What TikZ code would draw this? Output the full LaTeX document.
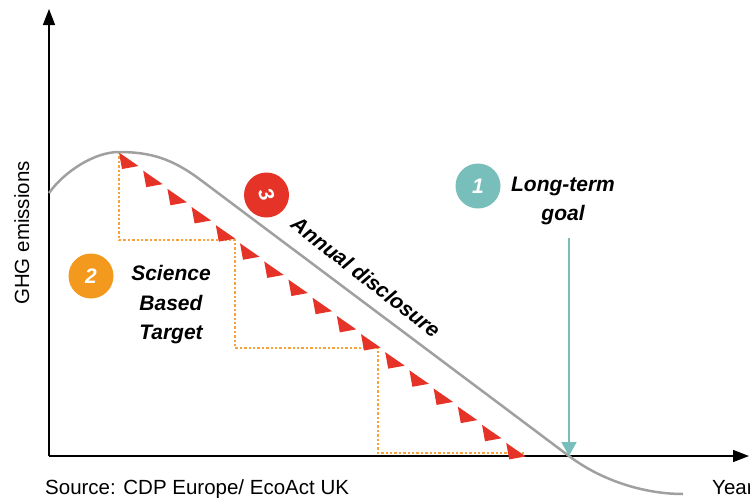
\documentclass[tikz,border=0pt]{standalone}
\usepackage{fontspec}
\setmainfont{Liberation Sans}
\usetikzlibrary{arrows.meta}
\definecolor{tealc}{HTML}{78BEBA}
\definecolor{orangec}{HTML}{F39A1E}
\definecolor{redc}{HTML}{E53427}
\definecolor{curvec}{HTML}{A0A0A0}
\definecolor{dotc}{HTML}{F7A23A}
\tikzset{
  axisline/.style={line width=1.5pt, -{Triangle[width=12pt,length=16pt]}},
  numcircle/.style={circle, minimum size=45pt, inner sep=0pt, text=white,
    font=\fontsize{21}{21}\selectfont\bfseries\itshape},
  biglabel/.style={align=center, font=\fontsize{21}{29.5}\selectfont\bfseries\itshape},
  plainlabel/.style={font=\fontsize{20.5}{24}\selectfont},
  stairs/.style={dotc, line width=2.4pt, dash pattern=on 2.4pt off 2pt},
  flag/.style={fill=redc},
}
\begin{document}
\begin{tikzpicture}[x=1pt,y=-1pt]
\useasboundingbox (0,0) rectangle (750,498);
\clip (0,0) rectangle (750,498);
% axes
\coordinate (O) at (49,456);
\coordinate (ytop) at (49,9);
\coordinate (xend) at (749,456);
\draw[axisline] (O) -- (ytop);
\draw[axisline] (O) -- (xend);
% staircase
\coordinate (s0) at (119,152);
\coordinate (s1) at (119,240);
\coordinate (s2) at (235,240);
\coordinate (s3) at (235,348);
\coordinate (s4) at (378,348);
\coordinate (s5) at (378,453);
\coordinate (s6) at (524,453);
\draw[stairs] (s0) -- (s1) -- (s2) -- (s3) -- (s4) -- (s5) -- (s6);
% red flags
\foreach \i in {0,...,16}{
  \pgfmathsetmacro\tx{119+24.2*\i}
  \pgfmathsetmacro\ty{152.5+18.15*\i}
  \fill[flag] (\tx,\ty) -- ++(3,16.5) -- ++(16.5,-3) -- cycle;
}
% emissions curve
\coordinate (c0) at (49,193);
\coordinate (peak) at (119,152);
\coordinate (cA) at (200,179.5);
\coordinate (cross) at (569,456);
\coordinate (cend) at (683,494);
\draw[curvec, line width=2.5pt]
  (c0) .. controls (64,172) and (94,152) .. (peak)
  .. controls (150,152) and (172,158.5) .. (cA)
  -- (cross)
  .. controls (602,481) and (645,494) .. (cend);
% long-term goal arrow
\coordinate (gtop) at (569,238);
\draw[tealc, line width=2pt, -{Triangle[width=15pt,length=14pt]}] (gtop) -- (cross);
% circles
\node[numcircle, fill=tealc] (n1) at (478,186) {1};
\node[numcircle, fill=orangec] (n2) at (91,276) {2};
\node[numcircle, fill=redc] (n3) at (266.5,195) {\rotatebox{-70}{3}};
% labels
\node[biglabel] (l1) at (563,201) {Long-term\\goal};
\node[biglabel] (l2) at (171,305) {Science\\Based\\Target};
\node[biglabel, rotate=-38] (l3) at (366,277) {Annual disclosure};
\node[plainlabel, rotate=90, anchor=base] (ylab) at (29,233) {GHG emissions};
\node[plainlabel, anchor=base west, inner sep=0pt] (src) at (45,494) {Source: CDP Europe/ EcoAct UK};
\node[plainlabel, anchor=base west, inner sep=0pt] (xlab) at (712,494) {Year};
\end{tikzpicture}
\end{document}
